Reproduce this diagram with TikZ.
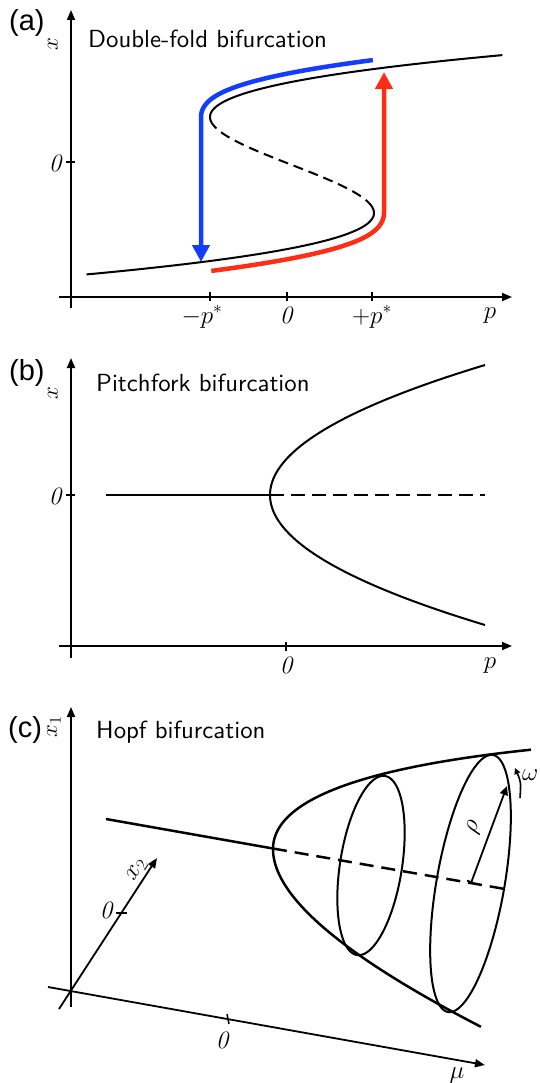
\RequirePackage{fix-cm}
\documentclass[tikz,border=0pt]{standalone}
\usepackage{fontspec}
\newfontfamily\labfont{Liberation Sans}
\newfontfamily\ttlfont[Extension=.otf]{lmsans10-regular}
\usetikzlibrary{arrows.meta}
\definecolor{fblue}{RGB}{20,60,255}
\definecolor{fred}{RGB}{255,45,20}
\begin{document}
\begin{tikzpicture}[x=1pt,y=-1pt,
  declare function={Lf(\u)=sqrt((12.3*\u*\u-12.3)^2+23.04);},
  axis/.style={line width=1.8pt,-{Triangle[length=10pt,width=8pt]}},
  tick/.style={line width=1.5pt},
  curve/.style={line width=2pt},
  dcurve/.style={line width=2pt, dash pattern=on 10pt off 6pt},
  thick3/.style={line width=2.5pt},
  bigarrow/.style={line width=4.5pt,-{Triangle[length=17pt,width=17pt]}},
  lab/.style={font=\labfont\fontsize{29}{32}\selectfont, anchor=base west, inner sep=0pt},
  ttl/.style={font=\ttlfont\fontsize{24.8}{30}\selectfont, anchor=base west, inner sep=0pt},
  mth/.style={font=\fontsize{25}{28}\selectfont, inner sep=0pt},
  rmth/.style={font=\fontsize{23}{26}\selectfont, inner sep=0pt, rotate=90},
]
\useasboundingbox (0,0) rectangle (539,1083);

% ---------------- (a) ----------------
\node[lab] (la) at (9,31) {(a)};
\node[ttl] (ta) at (88,48) {Double-fold bifurcation};
\draw[axis] (71,308) -- (71,10);
\draw[axis] (59,297) -- (512,297);
\draw[tick] (66,162) -- (75,162);
\foreach \t in {210,287,372} \draw[tick] (\t,292) -- (\t,301);
\node[rmth] (ax) at (53,44) {$x$};
\node[mth] (a0) at (55,163) {$\mathit{0}$};
\node[mth,anchor=base] (am) at (202,323) {$-p^*$};
\node[mth,anchor=base] (az) at (286,323) {$\mathit{0}$};
\node[mth,anchor=base] (ap) at (372,323) {$+p^*$};
\node[mth,anchor=base] (apl) at (490,318) {$p$};

\draw[curve] plot[domain=-2.28:-0.88, samples=50, smooth] ({292+41*(\x*\x*\x-3*\x)}, {165-48*\x});
\draw[dcurve] plot[domain=-0.88:0.88, samples=40, smooth] ({292+41*(\x*\x*\x-3*\x)}, {165-48*\x});
\draw[curve] plot[domain=0.88:2.29, samples=50, smooth] ({292+41*(\x*\x*\x-3*\x)}, {165-48*\x});

\draw[bigarrow, fblue] plot[domain=-2:-1, samples=40, smooth]
  ({292-41*(\x*\x*\x-3*\x)-43.2/Lf(\x)}, {165+48*\x-36.9*(3*\x*\x-3)/Lf(\x)}) -- (201,262);
\draw[bigarrow, fred] plot[domain=-2:-1, samples=40, smooth]
  ({292+41*(\x*\x*\x-3*\x)+48/Lf(\x)}, {165-48*\x+41*(3*\x*\x-3)/Lf(\x)}) -- (384,72);

% ---------------- (b) ----------------
\node[lab] (lb) at (9,380) {(b)};
\node[ttl] (tb) at (96,391) {Pitchfork bifurcation};
\draw[axis] (71,658) -- (71,358);
\draw[axis] (59,646) -- (512,646);
\draw[tick] (66,495) -- (75,495);
\draw[tick] (286,642) -- (286,651);
\node[rmth] (bx) at (53,393) {$x$};
\node[mth] (b0) at (55,496) {$\mathit{0}$};
\node[mth,anchor=base] (bz) at (286,673) {$\mathit{0}$};
\node[mth,anchor=base] (bp) at (490,668) {$p$};
\draw[curve] (106,495) -- (270,495);
\draw[curve, dash pattern=on 14pt off 7pt] (270,495) -- (485,495);
\draw[curve] plot[domain=-130:130, samples=81, smooth] ({270+215*(\x/130)^2}, {495+\x});

% ---------------- (c) ----------------
\node[lab] (lc) at (8,737) {(c)};
\node[ttl] (tc) at (96,738) {Hopf bifurcation};
\draw[axis] (71,1007) -- (71,707);
\draw[axis] (48,987) -- (485,1065);
\draw[axis] (59,1009) -- (157,858);
\draw[tick] (116,913) -- (127,913);
\draw[tick] (227,1014) -- (229,1024);
\node[rmth] (cx1) at (54,727) {$x_1$};
\node[mth] (cx2) at (137,870) [rotate=57] {$x_2$};
\node[mth] (c0a) at (106,910) {$\mathit{0}$};
\node[mth] (c0b) at (222,1040) {$\mathit{0}$};
\node[mth] (cmu) at (457,1076) {$\mu$};

\draw[thick3] (106,819) -- (273,848.5);
\draw[thick3, dash pattern=on 14pt off 8pt] (273,848.5) -- (505,889);
\draw[thick3] plot[domain=-14.42:16.06, samples=121, smooth]
  ({273+\x*\x}, {849+0.1754*\x*\x-ifthenelse(\x>0,9,9.8)*\x});
% ellipses
\draw[curve] plot[domain=0:360, samples=121, smooth]
  ({371+90.6*cos(\x)*0.1545+31*sin(\x)*0.988}, {865.5-90.6*cos(\x)*0.988+31*sin(\x)*0.1545});
\draw[curve] plot[domain=0:360, samples=121, smooth]
  ({470.5+130.5*cos(\x)*0.1724+34*sin(\x)*0.9847}, {883.5-130.5*cos(\x)*0.9847+34*sin(\x)*0.1724});
% rho
\coordinate (rc) at (471,883);
\coordinate (rt) at (507,786);
\draw[line width=1.8pt, {Bar[width=9pt]}-{Triangle[length=9pt,width=8pt]}] (rc) -- (rt);
\node[mth, rotate=69] (rho) at (474,828) {$\rho$};
% omega
\coordinate (w0) at (520,798);
\coordinate (w1) at (515,768);
\draw[line width=1.6pt, -{Triangle[length=6pt,width=6pt]}] (w0) .. controls (521,782) .. (w1);
\node[mth, anchor=west] (om) at (522,775) {$\omega$};
\end{tikzpicture}
\end{document}
